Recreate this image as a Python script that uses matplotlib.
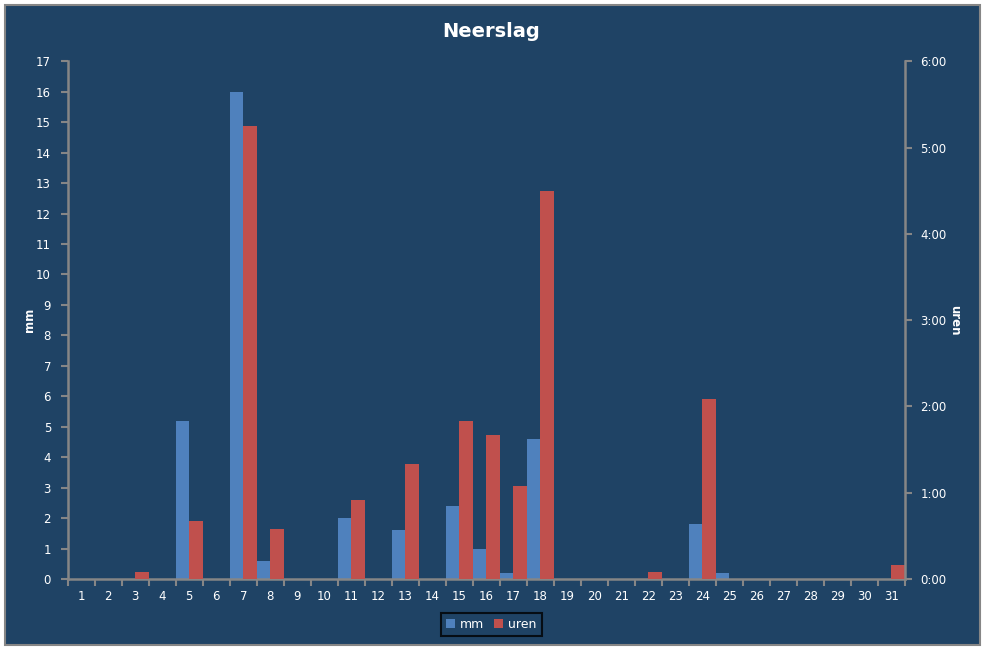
import matplotlib
matplotlib.use("Agg")
import matplotlib.pyplot as plt
from matplotlib.patches import Rectangle
from matplotlib.ticker import FuncFormatter

# data
dagen = list(range(1, 32))
mm = [0, 0, 0, 0, 5.2, 0, 16.0, 0.6, 0, 0, 2.0, 0, 1.6, 0, 2.4, 1.0, 0.2, 4.6,
      0, 0, 0, 0, 0, 1.8, 0.2, 0, 0, 0, 0, 0, 0]
# uren in minuten
uren = [0, 0, 5, 0, 40, 0, 315, 35, 0, 0, 55, 0, 80, 0, 110, 100, 65, 270,
        0, 0, 0, 5, 0, 125, 0, 0, 0, 0, 0, 0, 10]

bg = "#1F4365"
blauw = "#4F81BD"
rood = "#C0504D"
grijs = "#868686"

plt.rcParams['font.family'] = ['DejaVu Sans']

fig = plt.figure(figsize=(9.87, 6.48), dpi=100, facecolor="white")
fig.patches.append(Rectangle((5 / 987, 3 / 648), 975 / 987, 640 / 648, transform=fig.transFigure,
                             facecolor=bg, edgecolor=grijs, linewidth=1.5, zorder=-10))

ax = fig.add_axes([0.0686, 0.1065, 0.8483, 0.7989])
ax.set_facecolor(bg)
ax.patch.set_alpha(0)
ax2 = ax.twinx()

ax.bar([d - 0.25 for d in dagen], mm, width=0.5, color=blauw, label="mm")
ax2.bar([d + 0.25 for d in dagen], uren, width=0.5, color=rood, label="uren")

ax.set_xlim(0.5, 31.5)
ax.set_ylim(0, 17)
ax.set_yticks(range(0, 18))
ax2.set_ylim(0, 360)
ax2.set_yticks(range(0, 361, 60))
ax2.yaxis.set_major_formatter(FuncFormatter(lambda v, p: "%d:%02d" % (v // 60, v % 60)))

ax.set_xticks([d + 0.5 for d in range(0, 32)])
ax.set_xticklabels([])
ax.set_xticks(dagen, minor=True)
ax.set_xticklabels([str(d) for d in dagen], minor=True)
ax.tick_params(axis="x", which="minor", length=0, pad=8)
ax.tick_params(axis="x", which="major", length=5, width=1.5, color=grijs, direction="out")

for a in (ax, ax2):
    for s in a.spines.values():
        s.set_visible(False)
    a.tick_params(axis="y", length=5, width=1.5, color=grijs, labelcolor="white", labelsize=8.5)
    a.tick_params(axis="x", which="both", labelcolor="white", labelsize=8.5)
ax.spines["left"].set_visible(True)
ax.spines["bottom"].set_visible(True)
ax2.spines["right"].set_visible(True)
for s in (ax.spines["left"], ax.spines["bottom"], ax2.spines["right"]):
    s.set_color(grijs)
    s.set_linewidth(1.8)
ax.tick_params(axis="y", pad=7)
ax2.tick_params(axis="y", pad=6)

# as-titels
fig.text(30 / 987, 1 - 320 / 648, "mm", color="white", fontsize=8.5, fontweight="bold",
         rotation=90, ha="center", va="center")
fig.text(955 / 987, 1 - 320 / 648, "uren", color="white", fontsize=8.5, fontweight="bold",
         rotation=270, ha="center", va="center")

fig.text(0.498, 0.952, "Neerslag", color="white", fontsize=14, fontweight="bold", ha="center", va="center")

h1, l1 = ax.get_legend_handles_labels()
h2, l2 = ax2.get_legend_handles_labels()
leg = fig.legend(h1 + h2, l1 + l2, loc="center", bbox_to_anchor=(0.498, 0.037), ncol=2,
                 fontsize=9, frameon=True, fancybox=False, facecolor=bg, edgecolor="black",
                 handlelength=0.7, handleheight=0.7, handletextpad=0.4, columnspacing=0.8,
                 borderpad=0.4)
leg.get_frame().set_linewidth(1.5)
for t in leg.get_texts():
    t.set_color("white")

fig.savefig("out.png", dpi=100, facecolor=fig.get_facecolor())
